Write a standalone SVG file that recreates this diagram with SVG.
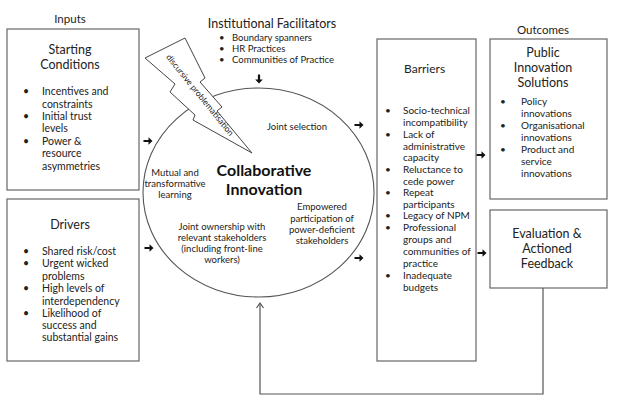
<svg xmlns="http://www.w3.org/2000/svg" width="626" height="410" viewBox="0 0 626 410">
<style>
text{font-family:Lato,"Open Sans","Liberation Sans",sans-serif;fill:#222;}
.box{fill:#fff;stroke:#666;stroke-width:1.2;}
.lbl{font-size:11.5px;text-anchor:middle;}
.hd{font-size:12.5px;text-anchor:middle;}
.b{font-size:10.5px;}
.bs{font-size:10px;}
.c{font-size:9.5px;text-anchor:middle;}
.line{fill:none;stroke:#555;stroke-width:1.2;}
.arr{fill:#111;}
</style>
<defs>
<path id="arr" d="M-4.5,-1.1 L0.5,-1.1 L0.5,-3.8 L4.5,0 L0.5,3.8 L0.5,1.1 L-4.5,1.1 Z"/>
</defs>
<rect width="626" height="410" fill="#fff"/>

<text class="lbl" x="70" y="23">Inputs</text>
<text class="lbl" x="543" y="34">Outcomes</text>

<g id="starting-conditions">
<rect class="box" x="7" y="29" width="132" height="161"/>
<text class="hd" x="70" y="54">Starting</text>
<text class="hd" x="70" y="69">Conditions</text>
<g class="b">
<text x="23" y="95">•</text><text x="42" y="95">Incentives and</text>
<text x="42" y="108">constraints</text>
<text x="23" y="120">•</text><text x="42" y="120">Initial trust</text>
<text x="42" y="132">levels</text>
<text x="23" y="145">•</text><text x="42" y="145">Power &amp;</text>
<text x="42" y="157">resource</text>
<text x="42" y="170">asymmetries</text>
</g>
</g>

<g id="drivers">
<rect class="box" x="7" y="199" width="132" height="162"/>
<text class="hd" x="70" y="229">Drivers</text>
<g class="b">
<text x="23" y="255">•</text><text x="42" y="255">Shared risk/cost</text>
<text x="23" y="267">•</text><text x="42" y="267">Urgent wicked</text>
<text x="42" y="280">problems</text>
<text x="23" y="292">•</text><text x="42" y="292">High levels of</text>
<text x="42" y="305">interdependency</text>
<text x="23" y="317">•</text><text x="42" y="317">Likelihood of</text>
<text x="42" y="329">success and</text>
<text x="42" y="341">substantial gains</text>
</g>
</g>

<g id="institutional-facilitators">
<text x="272" y="28" style="font-size:12.5px;text-anchor:middle">Institutional Facilitators</text>
<g style="font-size:9.5px">
<text x="219" y="41">•</text><text x="232" y="41">Boundary spanners</text>
<text x="219" y="52">•</text><text x="232" y="52">HR Practices</text>
<text x="219" y="63">•</text><text x="232" y="63">Communities of Practice</text>
</g>
</g>

<g id="collaborative-innovation">
<ellipse cx="258.5" cy="192.5" rx="115.5" ry="104.5" fill="#fff" stroke="#555" stroke-width="1.1"/>
<text x="264" y="176" style="font-size:16px;font-weight:bold;text-anchor:middle;fill:#111">Collaborative</text>
<text x="264" y="195" style="font-size:16px;font-weight:bold;text-anchor:middle;fill:#111">Innovation</text>
<text class="c" x="297" y="130">Joint selection</text>
<text class="c" x="175" y="176">Mutual and</text>
<text class="c" x="175" y="187">transformative</text>
<text class="c" x="175" y="198">learning</text>
<text class="c" x="322" y="210">Empowered</text>
<text class="c" x="322" y="222">participation of</text>
<text class="c" x="322" y="233">power-deficient</text>
<text class="c" x="322" y="244">stakeholders</text>
<text class="c" x="222" y="230">Joint ownership with</text>
<text class="c" x="222" y="241">relevant stakeholders</text>
<text class="c" x="222" y="252">(including front-line</text>
<text class="c" x="222" y="263">workers)</text>
</g>

<g id="discursive-problematisation">
<polygon points="145,58 185,38 205,78 200,82 222,107 217,111 252,153 193,120 195,115 170,92 175,84" fill="#fff" stroke="#444" stroke-width="1"/>
<text transform="translate(200,95) rotate(51)" x="0" y="3" style="font-size:8.5px;text-anchor:middle">discursive problematisation</text>
</g>

<g id="barriers">
<rect class="box" x="377" y="39" width="99" height="322"/>
<text x="404" y="73" style="font-size:12px">Barriers</text>
<g class="bs">
<text x="385" y="114">•</text><text x="403" y="114">Socio-technical</text>
<text x="403" y="126">incompatibility</text>
<text x="385" y="138">•</text><text x="403" y="138">Lack of</text>
<text x="403" y="150">administrative</text>
<text x="403" y="161">capacity</text>
<text x="385" y="173">•</text><text x="403" y="173">Reluctance to</text>
<text x="403" y="185">cede power</text>
<text x="385" y="196">•</text><text x="403" y="196">Repeat</text>
<text x="403" y="208">participants</text>
<text x="385" y="219">•</text><text x="403" y="219">Legacy of NPM</text>
<text x="385" y="231">•</text><text x="403" y="231">Professional</text>
<text x="403" y="243">groups and</text>
<text x="403" y="255">communities of</text>
<text x="403" y="267">practice</text>
<text x="385" y="279">•</text><text x="403" y="279">Inadequate</text>
<text x="403" y="291">budgets</text>
</g>
</g>

<g id="public-innovation-solutions">
<rect class="box" x="490" y="39" width="117" height="160"/>
<text class="hd" x="543" y="57">Public</text>
<text class="hd" x="543" y="72">Innovation</text>
<text class="hd" x="543" y="87">Solutions</text>
<g class="bs">
<text x="500" y="105">•</text><text x="521" y="105">Policy</text>
<text x="521" y="117">innovations</text>
<text x="500" y="129">•</text><text x="521" y="129">Organisational</text>
<text x="521" y="141">innovations</text>
<text x="500" y="153">•</text><text x="521" y="153">Product and</text>
<text x="521" y="165">service</text>
<text x="521" y="177">innovations</text>
</g>
</g>

<g id="evaluation-feedback">
<rect class="box" x="490" y="210" width="117" height="78"/>
<text class="hd" x="547" y="238">Evaluation &amp;</text>
<text class="hd" x="547" y="253">Actioned</text>
<text class="hd" x="547" y="268">Feedback</text>
</g>

<g id="connectors">
<use href="#arr" class="arr" transform="translate(148,141)"/>
<use href="#arr" class="arr" transform="translate(149,248)"/>
<use href="#arr" class="arr" transform="translate(259,79) rotate(90)"/>
<use href="#arr" class="arr" transform="translate(359,125)"/>
<use href="#arr" class="arr" transform="translate(359,258)"/>
<use href="#arr" class="arr" transform="translate(481,155)"/>
<use href="#arr" class="arr" transform="translate(482,253)"/>
<polyline class="line" points="543,288 543,394 260,394 260,303.5"/>
<polyline class="line" points="256.5,308 260,303 263.5,308"/>
</g>
</svg>
